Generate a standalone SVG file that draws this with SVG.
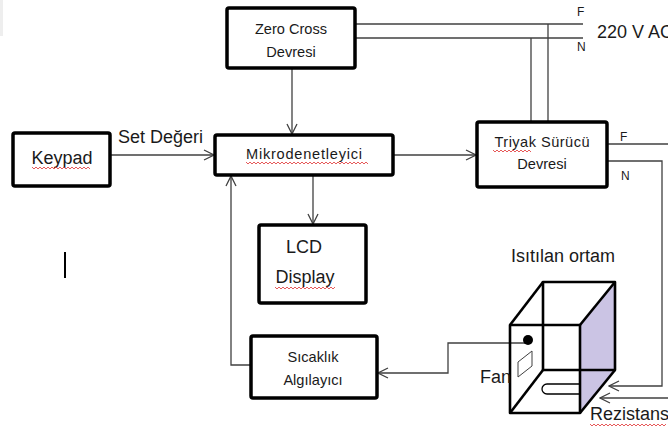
<svg xmlns="http://www.w3.org/2000/svg" width="668" height="431" viewBox="0 0 668 431">
  <style>
    .box { fill: #ffffff; stroke: #000000; stroke-width: 3.5; stroke-linejoin: round; }
    .wire { fill: none; stroke: #404040; stroke-width: 1.3; }
    .edge { fill: none; stroke: #000000; stroke-width: 2.6; stroke-linejoin: round; }
    .lbl { font-family: "Liberation Sans", Arial, sans-serif; fill: #1a1a1a; text-anchor: middle; }
    .sm { font-size: 14.6px; }
    .md { font-size: 18px; }
    .tag { font-family: "Liberation Sans", Arial, sans-serif; font-size: 12px; fill: #1a1a1a; }
    .squig { fill: none; stroke: #e03030; stroke-width: 0.8; }
  </style>
  <defs>
    <marker id="arrow" viewBox="0 0 12 12" refX="11" refY="6" markerWidth="12" markerHeight="12" markerUnits="userSpaceOnUse" orient="auto">
      <polyline points="1,1 11,6 1,11" fill="none" stroke="#404040" stroke-width="1.3"/>
    </marker>
  </defs>

  <rect width="668" height="431" fill="#ffffff"/>
  <rect x="0" y="0" width="3" height="36" fill="#eeeeee"/>

  <!-- connectors -->
  <g id="connectors">
    <!-- mains lines into zero cross detector -->
    <line class="wire" x1="355" y1="24" x2="583" y2="24"/>
    <line class="wire" x1="355" y1="38" x2="583" y2="38"/>
    <line class="wire" x1="548" y1="24" x2="548" y2="122"/>
    <line class="wire" x1="531" y1="38" x2="531" y2="122"/>
    <!-- zero cross to MCU -->
    <line class="wire" x1="292" y1="68" x2="292" y2="134" marker-end="url(#arrow)"/>
    <!-- keypad to MCU -->
    <line class="wire" x1="110" y1="155" x2="214" y2="155" marker-end="url(#arrow)"/>
    <!-- MCU to triac driver -->
    <line class="wire" x1="393" y1="155" x2="476" y2="155" marker-end="url(#arrow)"/>
    <!-- MCU to LCD -->
    <line class="wire" x1="313" y1="175" x2="313" y2="224" marker-end="url(#arrow)"/>
    <!-- sensor back to MCU -->
    <polyline class="wire" points="251,365 231,365 231,176" marker-end="url(#arrow)"/>
    <!-- fan to sensor -->
    <polyline class="wire" points="527,343 448,343 448,373 378,373" marker-end="url(#arrow)"/>
    <!-- triac driver outputs to heater -->
    <line class="wire" x1="607" y1="144" x2="668" y2="144"/>
    <polyline class="wire" points="607,161 662,161 662,386 609,386" marker-end="url(#arrow)"/>
    <line class="wire" x1="668" y1="398" x2="600" y2="398" marker-end="url(#arrow)"/>
  </g>

  <!-- labels on wires -->
  <text class="tag" x="577" y="16">F</text>
  <text class="tag" x="577" y="51">N</text>
  <text class="lbl md" x="597" y="38" style="text-anchor:start">220 V AC</text>
  <text class="tag" x="620" y="141">F</text>
  <text class="tag" x="621" y="180">N</text>
  <text class="lbl md" x="118" y="143" style="text-anchor:start">Set Değeri</text>

  <g id="zero-cross">
    <rect class="box" x="227" y="8" width="128" height="60" rx="2"/>
    <text class="lbl sm" x="291" y="34">Zero Cross</text>
    <text class="lbl sm" x="291" y="57">Devresi</text>
  </g>

  <g id="keypad">
    <rect class="box" x="13" y="133" width="97" height="53" rx="2"/>
    <text class="lbl md" x="62" y="164">Keypad</text>
    <path class="squig" d="M32,167 l2,2 l2,-2 l2,2 l2,-2 l2,2 l2,-2 l2,2 l2,-2 l2,2 l2,-2 l2,2 l2,-2 l2,2 l2,-2 l2,2 l2,-2 l2,2 l2,-2 l2,2 l2,-2 l2,2 l2,-2 l2,2 l2,-2 l2,2 l2,-2 l2,2 l2,-2 l2,2"/>
  </g>

  <g id="mcu">
    <rect class="box" x="215" y="135" width="178" height="40" rx="2"/>
    <text class="lbl sm" x="304" y="159" textLength="116">Mikrodenetleyici</text>
    <path class="squig" d="M246,162 l2,2 l2,-2 l2,2 l2,-2 l2,2 l2,-2 l2,2 l2,-2 l2,2 l2,-2 l2,2 l2,-2 l2,2 l2,-2 l2,2 l2,-2 l2,2 l2,-2 l2,2 l2,-2 l2,2 l2,-2 l2,2 l2,-2 l2,2 l2,-2 l2,2 l2,-2 l2,2 l2,-2 l2,2 l2,-2 l2,2 l2,-2 l2,2 l2,-2 l2,2 l2,-2 l2,2 l2,-2 l2,2 l2,-2 l2,2 l2,-2 l2,2 l2,-2 l2,2 l2,-2 l2,2 l2,-2 l2,2 l2,-2 l2,2 l2,-2 l2,2 l2,-2 l2,2 l2,-2 l2,2 l2,-2 l2,2"/>
  </g>

  <g id="triac-driver">
    <rect class="box" x="477" y="122" width="130" height="65" rx="2"/>
    <text class="lbl sm" x="542" y="147" textLength="95">Triyak Sürücü</text>
    <text class="lbl sm" x="542" y="169">Devresi</text>
    <path class="squig" d="M493,150 l2,2 l2,-2 l2,2 l2,-2 l2,2 l2,-2 l2,2 l2,-2 l2,2 l2,-2 l2,2 l2,-2 l2,2 l2,-2 l2,2 l2,-2 l2,2 l2,-2 l2,2"/>
  </g>

  <g id="lcd">
    <rect class="box" x="259" y="225" width="107" height="78" rx="2"/>
    <text class="lbl md" x="304" y="253">LCD</text>
    <text class="lbl md" x="305" y="283">Display</text>
    <path class="squig" d="M275,287 l2,2 l2,-2 l2,2 l2,-2 l2,2 l2,-2 l2,2 l2,-2 l2,2 l2,-2 l2,2 l2,-2 l2,2 l2,-2 l2,2 l2,-2 l2,2 l2,-2 l2,2 l2,-2 l2,2 l2,-2 l2,2 l2,-2 l2,2 l2,-2 l2,2 l2,-2 l2,2 l2,-2"/>
  </g>

  <g id="sensor">
    <rect class="box" x="251" y="336" width="126" height="62" rx="2"/>
    <text class="lbl sm" x="313" y="362">Sıcaklık</text>
    <text class="lbl sm" x="313" y="385">Algılayıcı</text>
  </g>

  <!-- text cursor -->
  <line x1="65" y1="252" x2="65" y2="278" stroke="#000000" stroke-width="2"/>

  <g id="heated-chamber">
    <text class="lbl md" x="563" y="262">Isıtılan ortam</text>
    <polygon points="580,325 615,282 615,370 580,413" fill="#cbc4e4"/>
    <!-- back face -->
    <polyline class="edge" points="543,370 543,282 615,282 615,370 543,370"/>
    <!-- depth edges -->
    <line class="edge" x1="510" y1="325" x2="543" y2="282"/>
    <line class="edge" x1="580" y1="325" x2="615" y2="282"/>
    <line class="edge" x1="510" y1="413" x2="543" y2="370"/>
    <line class="edge" x1="580" y1="413" x2="615" y2="370"/>
    <!-- front face -->
    <rect class="edge" x="510" y="325" width="70" height="88"/>
    <!-- fan -->
    <circle cx="528" cy="340" r="5" fill="#000000"/>
    <polygon points="518,377 518,362 532,351 532,366" fill="#ffffff" stroke="#404040" stroke-width="1"/>
    <!-- heater element -->
    <path d="M580,384 L547,384 A5,5 0 0 0 547,394 L580,394" fill="none" stroke="#000000" stroke-width="1.3"/>
    <text class="lbl md" x="480" y="383" style="text-anchor:start">Fan</text>
    <text class="lbl md" x="590" y="420" style="text-anchor:start">Rezistans</text>
    <path class="squig" d="M590,424 l2,2 l2,-2 l2,2 l2,-2 l2,2 l2,-2 l2,2 l2,-2 l2,2 l2,-2 l2,2 l2,-2 l2,2 l2,-2 l2,2 l2,-2 l2,2 l2,-2 l2,2 l2,-2 l2,2 l2,-2 l2,2 l2,-2 l2,2 l2,-2 l2,2 l2,-2 l2,2 l2,-2 l2,2 l2,-2 l2,2 l2,-2 l2,2 l2,-2 l2,2 l2,-2"/>
  </g>
</svg>
